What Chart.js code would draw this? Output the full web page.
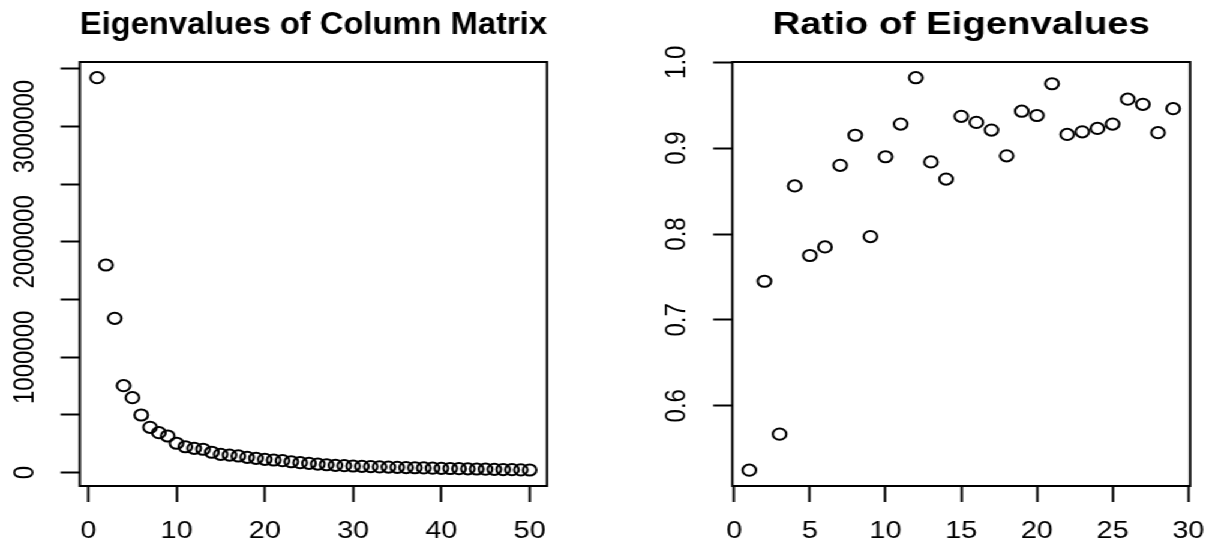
<!DOCTYPE html>
<html>
<head>
<meta charset="utf-8">
<script src="https://cdn.jsdelivr.net/npm/chart.js@4/dist/chart.umd.min.js"></script>
<style>
  html, body { margin: 0; padding: 0; background: #fff; overflow: hidden; }
  /* the reference is stretched sideways, so the charts are drawn narrower and scaled */
  #wrap { position: absolute; left: 0; top: 0; width: 1018.33px; height: 550px; transform: scaleX(1.2); transform-origin: 0 0; }
  .panel { position: absolute; top: 0; height: 550px; }
  #leftPanel { left: 0; width: 530px; }
  #rightPanel { left: 530px; width: 488.33px; }
</style>
</head>
<body>
<div id="wrap">
  <div class="panel" id="leftPanel"><canvas id="eigenChart"></canvas></div>
  <div class="panel" id="rightPanel"><canvas id="ratioChart"></canvas></div>
</div>
<script>
// values
const eigenvalues = [3423000, 1800000, 1338000, 754000, 650000, 500000, 393000, 347000, 318000, 255000,
                     225000, 211000, 203000, 177000, 159000, 153000, 145000, 133000, 125000, 116000,
                     110000, 104000, 95000, 87000, 81000, 75000, 69000, 64000, 61000, 58000,
                     55000, 53000, 50500, 48500, 46500, 44500, 43000, 41500, 39500, 38000,
                     36500, 35000, 33500, 32000, 30500, 29000, 27500, 26000, 24500, 23400];
const ratios = [0.525, 0.745, 0.567, 0.856, 0.775, 0.785, 0.880, 0.915, 0.797, 0.890,
                0.928, 0.982, 0.884, 0.864, 0.937, 0.930, 0.921, 0.891, 0.943, 0.938,
                0.975, 0.916, 0.919, 0.923, 0.928, 0.957, 0.951, 0.918, 0.946];

const eigenXTicks = [0, 10, 20, 30, 40, 50];
const eigenYTicks = [0, 500000, 1000000, 1500000, 2000000, 2500000, 3000000, 3500000];
const eigenYLabels = ['0', '', '1000000', '', '2000000', '', '3000000', ''];
const ratioXTicks = [0, 5, 10, 15, 20, 25, 30];
const ratioYTicks = [0.6, 0.7, 0.8, 0.9, 1.0];
const ratioYLabels = ['0.6', '0.7', '0.8', '0.9', '1.0'];

Chart.defaults.font.family = '"Liberation Sans", Arial, sans-serif';
Chart.defaults.color = '#000';

const frame = {
    id: 'frame',
    afterDraw(chart) {
        const { ctx, chartArea: a } = chart;
        ctx.save();
        ctx.strokeStyle = '#000';
        ctx.lineWidth = 2;
        ctx.strokeRect(a.left, a.top, a.right - a.left, a.bottom - a.top);
        ctx.restore();
    }
};

function xAxis(min, max, ticks) {
    return {
        type: 'linear', min: min, max: max,
        afterBuildTicks: s => { s.ticks = ticks.map(v => ({ value: v })); },
        afterFit: s => { s.height = 64; },
        border: { display: false },
        grid: { drawOnChartArea: false, tickLength: 16, tickWidth: 2, color: '#000', tickColor: '#000' },
        ticks: { padding: 14.6, autoSkip: false, maxRotation: 0, font: { size: 24 }, color: '#000',
                 callback: v => String(v) }
    };
}

function yAxis(min, max, ticks, labels, width, pad) {
    return {
        type: 'linear', min: min, max: max,
        afterBuildTicks: s => { s.ticks = ticks.map(v => ({ value: v })); },
        afterFit: s => { s.width = width; },
        border: { display: false },
        grid: { drawOnChartArea: false, tickLength: 16, tickWidth: 2, color: '#000', tickColor: '#000' },
        ticks: { minRotation: 90, maxRotation: 90, crossAlign: 'center', padding: pad, autoSkip: false,
                 font: { size: 24 }, color: '#000', callback: (v, i) => labels[i] }
    };
}

function makeChart(id, values, title, xMin, xMax, xTicks, yMin, yMax, yTicks, yLabels, yWidth, yPad, rightPad) {
    return new Chart(document.getElementById(id).getContext('2d'), {
        type: 'scatter',
        data: {
            datasets: [{
                data: values.map((v, i) => ({ x: i + 1, y: v })),
                pointStyle: 'circle',
                pointRadius: 5.6,
                pointBorderWidth: 2,
                pointBorderColor: '#000',
                pointBackgroundColor: 'rgba(0,0,0,0)',
                clip: false
            }]
        },
        options: {
            responsive: true,
            maintainAspectRatio: false,
            animation: false,
            events: [],
            layout: { padding: { right: rightPad } },
            scales: {
                x: xAxis(xMin, xMax, xTicks),
                y: yAxis(yMin, yMax, yTicks, yLabels, yWidth, yPad)
            },
            plugins: {
                legend: { display: false },
                tooltip: { enabled: false },
                title: {
                    display: true, text: title, fullSize: false, color: '#000',
                    font: { size: 32, weight: 'bold' },
                    padding: { top: 5.5, bottom: 18.1 }
                }
            }
        },
        plugins: [frame]
    });
}

makeChart('eigenChart', eigenvalues, 'Eigenvalues of Column Matrix',
    -0.96, 51.96, eigenXTicks, -115250, 3558910, eigenYTicks, eigenYLabels, 66.5, -17.2, 74.2);
makeChart('ratioChart', ratios, 'Ratio of Eigenvalues',
    -0.12, 30.12, ratioXTicks, 0.5066, 1.0003, ratioYTicks, ratioYLabels, 80.3, 13.1, 19.8);
</script>
</body>
</html>
